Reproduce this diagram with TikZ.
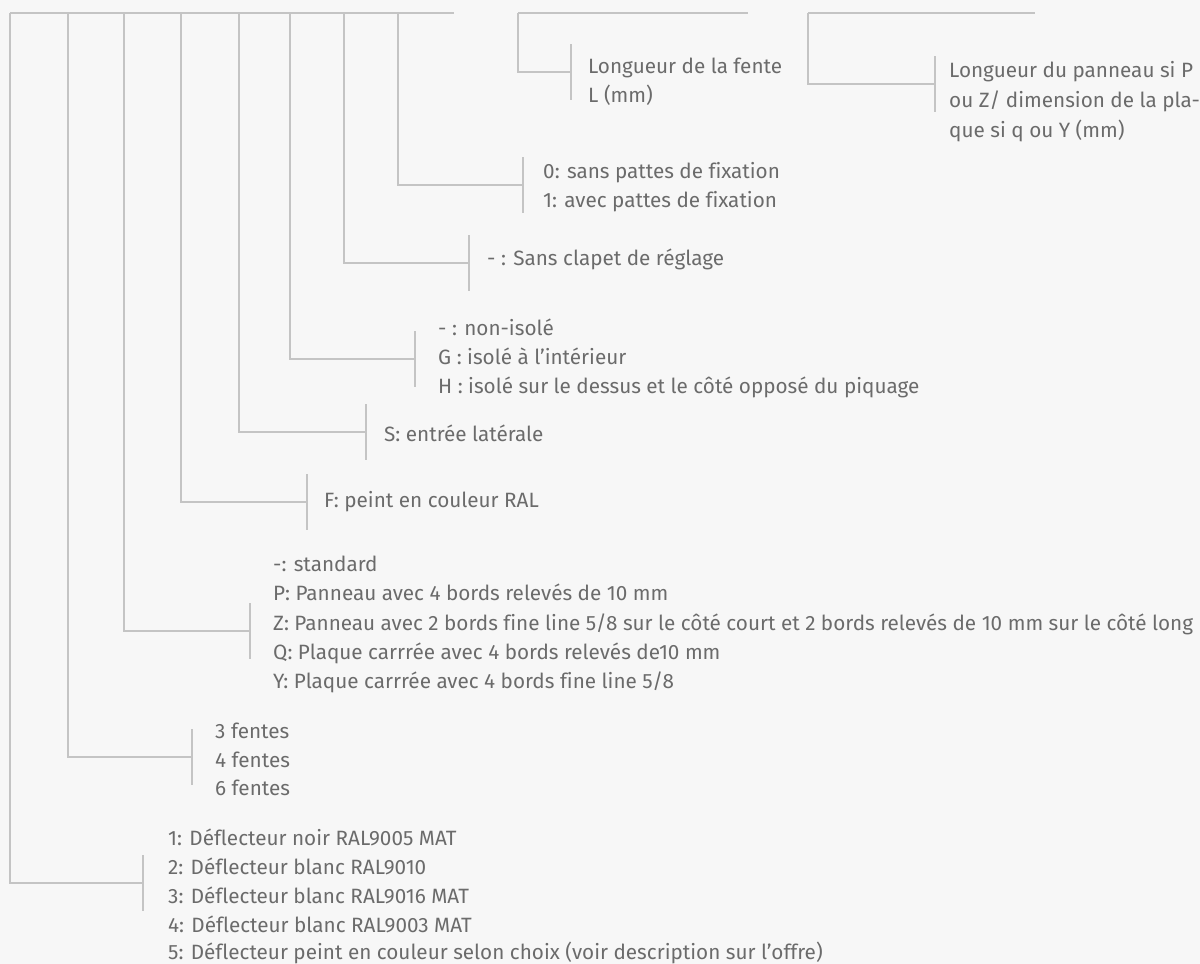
\documentclass[tikz,border=0pt]{standalone}
\usepackage{fontspec}
\setmainfont{Fira Sans}[Ligatures=NoCommon]
\definecolor{bgc}{HTML}{F7F7F7}
\definecolor{linec}{HTML}{C4C4C4}
\definecolor{textc}{HTML}{6B6B6B}
\begin{document}
\begin{tikzpicture}[x=1pt,y=-1pt,
  conn/.style={draw=linec,line width=1.3pt},
  lbl/.style={anchor=base west,inner sep=0pt,text=textc,font=\fontsize{20.7}{25}\selectfont}]
\fill[bgc] (0,0) rectangle (1200,964);
\useasboundingbox (0,0) rectangle (1200,964);
% top rails
\coordinate (r0) at (10,13);
\coordinate (r1) at (454,13);
\coordinate (s0) at (518,13);
\coordinate (s1) at (748,13);
\coordinate (u0) at (808,13);
\coordinate (u1) at (1035,13);
\draw[conn] (r0) -- (r1);
\draw[conn] (s0) -- (s1);
\draw[conn] (u0) -- (u1);
% bracket coordinates: top, corner, bracket mid, bracket ends
\foreach \n/\xv/\yh/\xb in {a/10/883/143, b/68/757/192, c/124/631/250, d/181/502/307, e/239/432/366, f/290/359/415, g/344/263/469, h/398/185/523, i/518/72/571, j/808/84/935}{
  \coordinate (\n t) at (\xv,13);
  \coordinate (\n c) at (\xv,\yh);
  \coordinate (\n m) at (\xb,\yh);
  \coordinate (\n u) at (\xb,\yh-28);
  \coordinate (\n l) at (\xb,\yh+28);
  \draw[conn] (\n t) -- (\n c) -- (\n m);
  \draw[conn] (\n u) -- (\n l);
}
% texts
\node[lbl] (a1) at (168,845) {1: Déflecteur noir RAL9005 MAT};
\node[lbl] (a2) at (168,874) {2: Déflecteur blanc RAL9010};
\node[lbl] (a3) at (168,903) {3: Déflecteur blanc RAL9016 MAT};
\node[lbl] (a4) at (168,932) {4: Déflecteur blanc RAL9003 MAT};
\node[lbl] (a5) at (168,959.5) {5: Déflecteur peint en couleur selon choix (voir description sur l’offre)};
\node[lbl] (b1) at (215,738.5) {3 fentes};
\node[lbl] (b2) at (215,767) {4 fentes};
\node[lbl] (b3) at (215,795.5) {6 fentes};
\node[lbl] (c1) at (273,571.5) {-: standard};
\node[lbl] (c2) at (273,600.8) {P: Panneau avec 4 bords relevés de 10 mm};
\node[lbl] (c3) at (273,630) {Z: Panneau avec 2 bords fine line 5/8 sur le côté court et 2 bords relevés de 10 mm sur le côté long};
\node[lbl] (c4) at (273,659.3) {Q: Plaque carrrée avec 4 bords relevés de10 mm};
\node[lbl] (c5) at (273,688.5) {Y: Plaque carrrée avec 4 bords fine line 5/8};
\node[lbl] (d1) at (324,507.5) {F: peint en couleur RAL};
\node[lbl] (e1) at (384,441) {S: entrée latérale};
\node[lbl] (f1) at (438,335.5) {- : non-isolé};
\node[lbl] (f2) at (438,364.5) {G : isolé à l’intérieur};
\node[lbl] (f3) at (438,393.5) {H : isolé sur le dessus et le côté opposé du piquage};
\node[lbl] (g1) at (487,265.5) {- : Sans clapet de réglage};
\node[lbl] (h1) at (543,178.5) {0: sans pattes de fixation};
\node[lbl] (h2) at (543,207.5) {1: avec pattes de fixation};
\node[lbl] (i1) at (588,73) {Longueur de la fente};
\node[lbl] (i2) at (588,102) {L (mm)};
\node[lbl] (j1) at (949,77) {Longueur du panneau si P};
\node[lbl] (j2) at (949,107) {ou Z/ dimension de la pla-};
\node[lbl] (j3) at (949,137) {que si q ou Y (mm)};
\end{tikzpicture}
\end{document}
